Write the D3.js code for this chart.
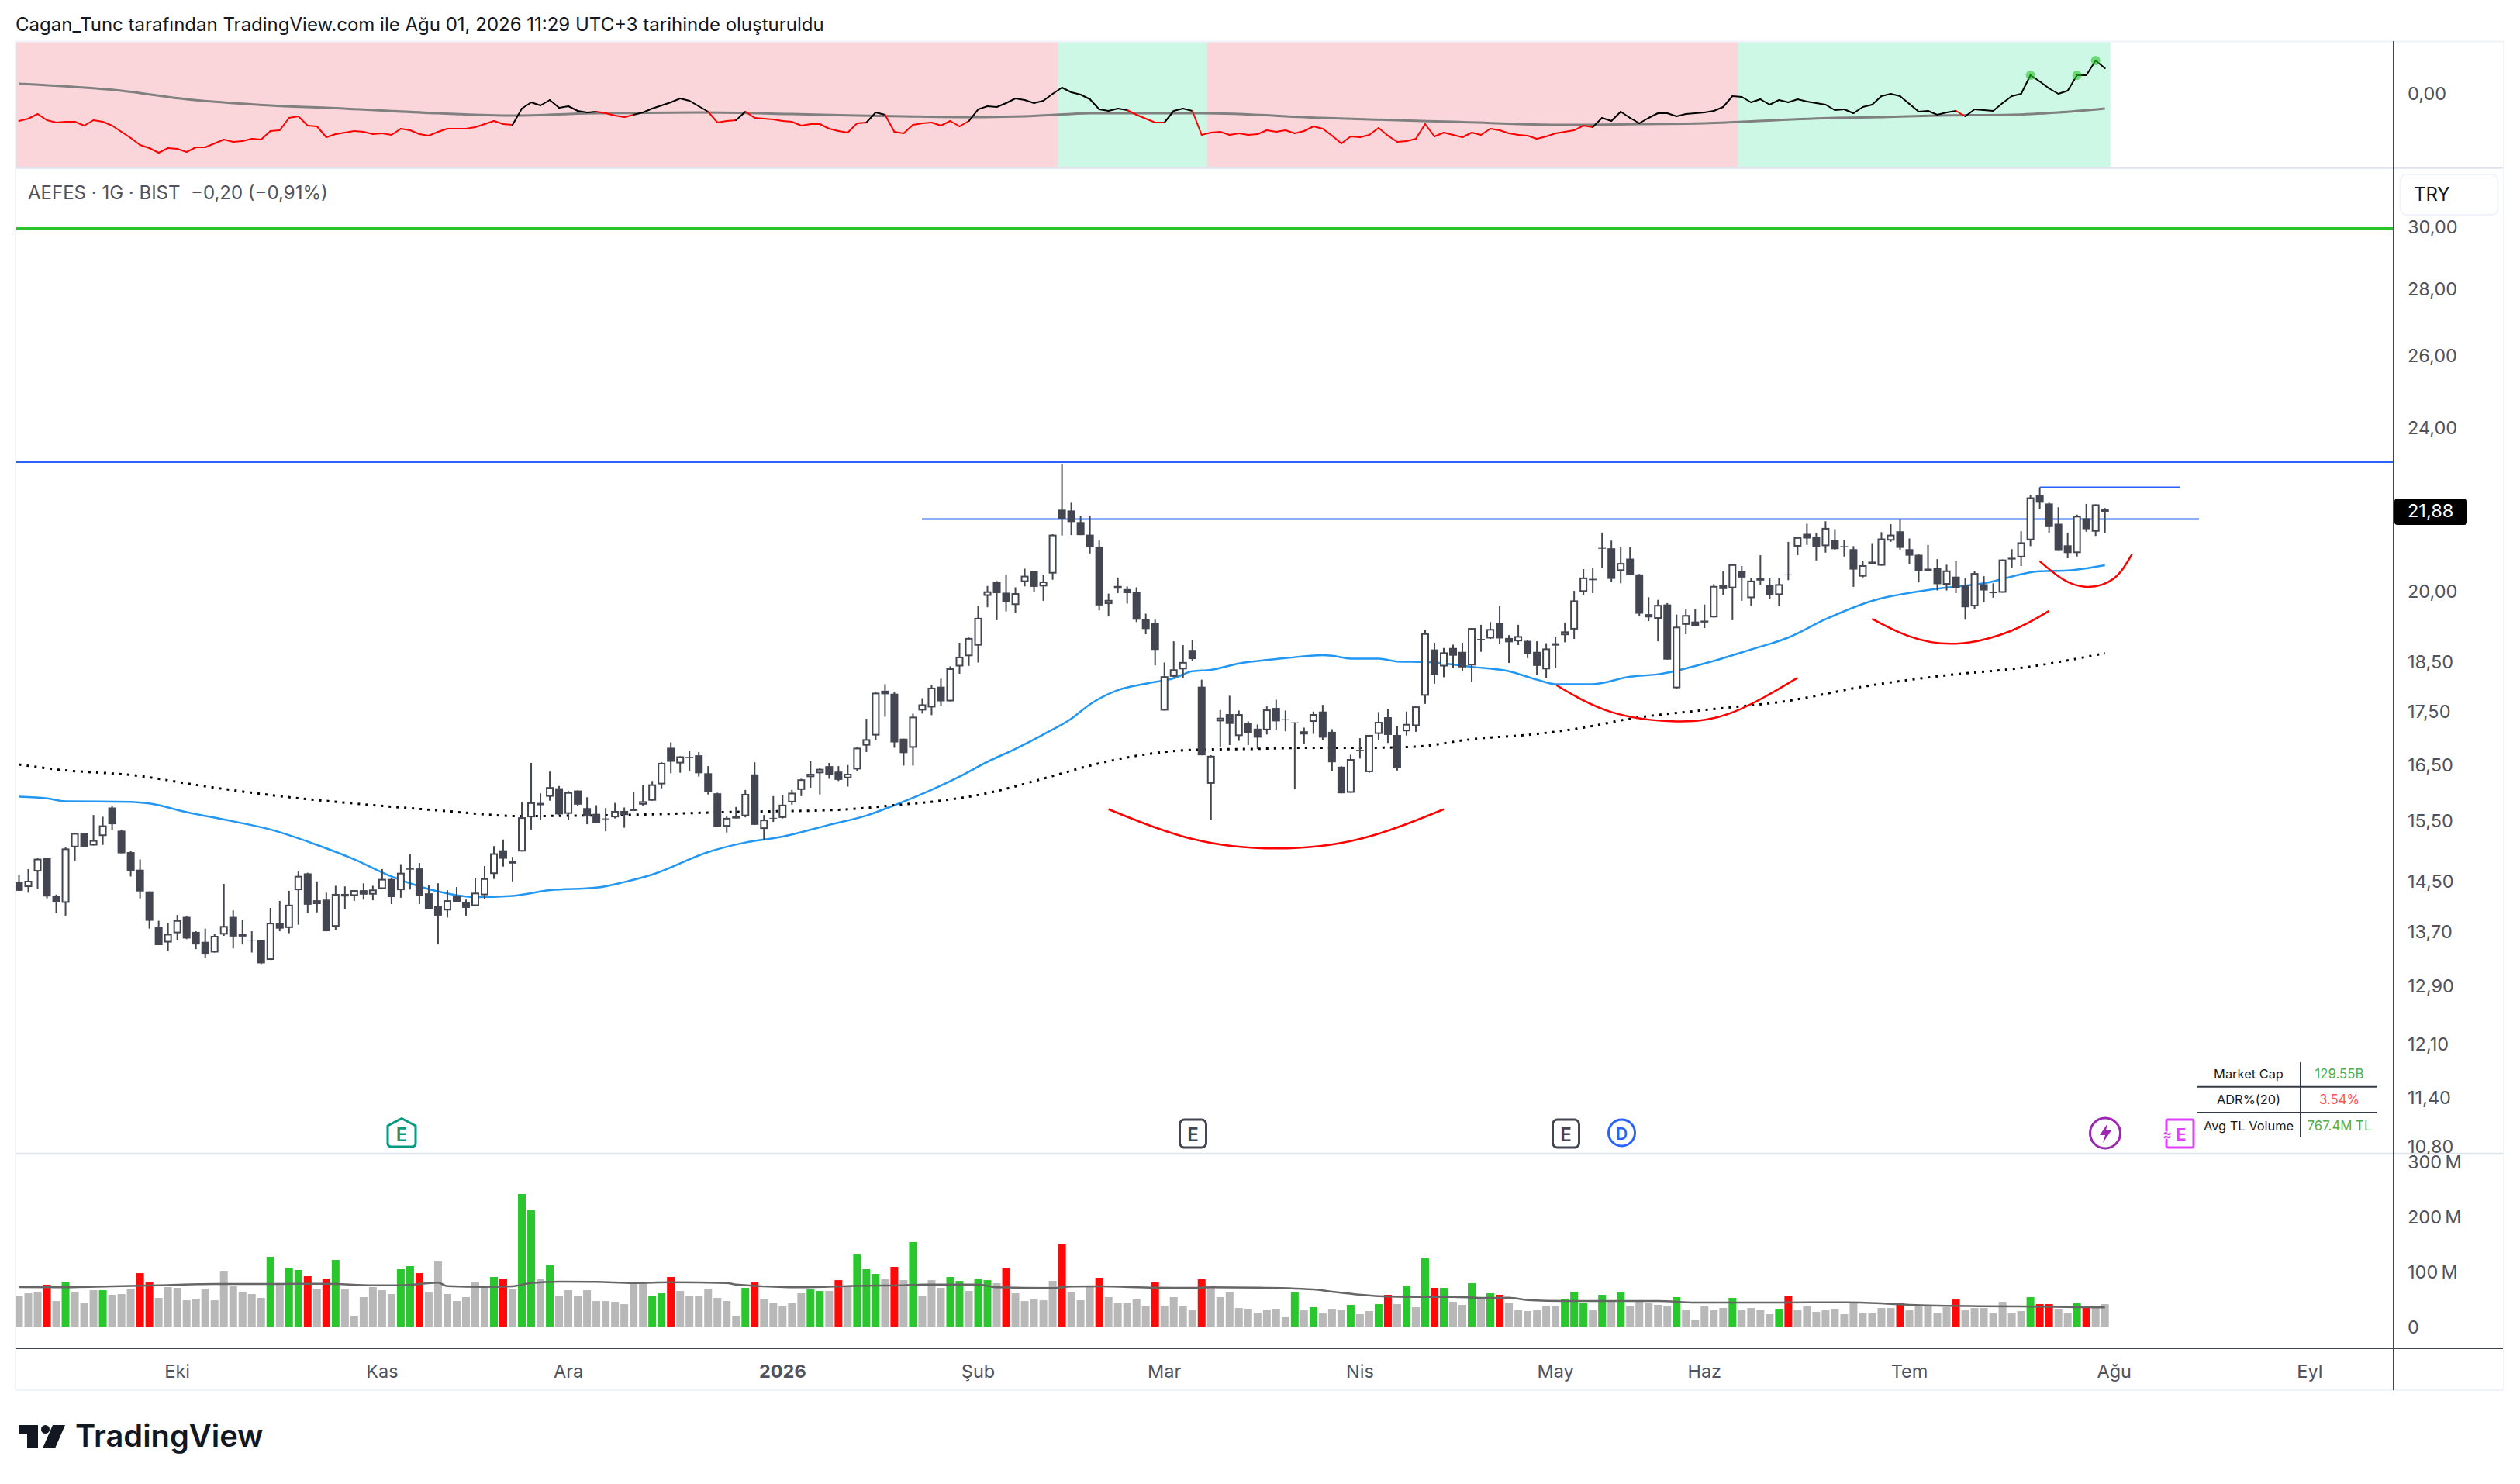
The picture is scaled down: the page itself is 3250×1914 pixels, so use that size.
<!DOCTYPE html>
<html>
<head>
<meta charset="utf-8">
<script src="https://cdn.jsdelivr.net/npm/d3@7"></script>
<style>
  html, body { margin: 0; background: #fff; }
  text { font-family: Inter, "Noto Sans", sans-serif; }
</style>
</head>
<body>
<svg id="chart" width="3250" height="1914"></svg>
<script>
const opens = [14.48,14.40,14.65,14.87,14.26,14.15,15.05,15.29,15.08,15.24,
  15.73,15.33,14.97,14.68,14.33,13.78,13.54,13.68,13.93,13.70,
  13.55,13.39,13.66,13.93,13.67,13.58,13.58,13.28,13.84,13.76,
  14.35,14.62,14.13,14.20,13.78,14.29,14.26,14.35,14.28,14.37,
  14.53,14.35,14.70,14.70,14.30,14.10,14.03,14.26,14.16,14.10,
  14.27,14.61,15.00,14.82,14.98,15.56,15.81,15.92,16.07,15.62,
  16.03,15.72,15.62,15.54,15.56,15.67,15.71,15.78,15.85,16.14,
  16.81,16.52,16.64,16.67,16.34,15.98,15.40,15.58,15.58,16.32,
  15.36,15.55,15.55,15.82,16.04,16.27,16.34,16.47,16.37,16.25,
  16.41,16.85,17.04,17.91,17.85,16.98,16.81,17.52,17.58,17.99,
  17.70,18.40,18.61,18.83,19.90,20.21,19.97,19.70,20.21,20.45,
  20.11,20.40,21.90,21.88,21.60,21.30,21.02,19.72,20.06,20.05,
  19.99,19.39,19.31,17.52,18.19,18.34,18.74,17.99,16.15,17.31,
  17.45,17.03,17.28,17.17,17.14,17.57,17.35,17.29,17.06,17.30,
  17.50,17.11,16.46,15.99,16.77,16.36,17.07,17.39,17.05,17.12,
  17.22,17.81,18.75,18.40,18.78,18.70,18.42,18.97,18.98,19.31,
  18.99,18.92,18.93,18.70,18.34,18.88,19.05,19.17,19.99,20.28,
  20.99,20.98,20.46,20.74,20.38,19.50,19.40,19.71,17.96,19.27,
  19.34,19.36,19.43,20.15,20.07,20.45,19.85,20.29,20.15,19.92,
  20.38,21.02,21.32,21.25,21.03,21.18,21.03,20.96,20.33,20.67,
  20.58,21.16,21.38,20.96,20.83,20.51,20.52,20.15,20.33,20.13,
  19.67,20.16,19.98,19.97,20.76,20.77,21.17,22.26,22.05,21.56,
  21.05,20.87,21.69,21.37,21.92];
const closes = [14.34,14.50,14.86,14.25,14.16,15.03,15.29,15.05,15.17,15.42,
  15.44,14.95,14.66,14.33,13.87,13.50,13.67,13.88,13.60,13.51,
  13.36,13.64,13.79,13.63,13.63,13.57,13.23,13.84,13.75,14.12,
  14.58,14.12,14.19,13.71,14.29,14.25,14.35,14.28,14.36,14.53,
  14.24,14.63,14.68,14.26,14.05,13.95,14.19,14.16,14.07,14.31,
  14.54,14.95,14.86,14.78,15.56,15.82,15.77,16.09,15.61,16.00,
  15.78,15.59,15.46,15.53,15.67,15.60,15.67,15.84,16.14,16.53,
  16.55,16.65,16.62,16.34,16.00,15.40,15.55,15.54,15.97,15.43,
  15.52,15.54,15.78,15.99,16.23,16.33,16.42,16.31,16.22,16.33,
  16.81,16.97,17.87,17.84,16.91,16.71,17.40,17.64,17.97,17.70,
  18.36,18.60,18.99,19.42,20.00,19.96,19.76,19.96,20.35,20.10,
  20.22,21.30,21.67,21.60,21.29,21.00,19.69,19.81,20.12,19.96,
  19.38,19.18,18.74,18.20,18.34,18.49,18.55,16.67,16.66,17.38,
  17.26,17.45,17.09,17.00,17.54,17.31,17.33,17.28,17.12,17.45,
  17.00,16.54,15.98,16.60,16.75,17.05,17.30,17.05,16.43,17.26,
  17.60,19.09,18.23,18.69,18.62,18.38,19.20,18.95,19.18,18.98,
  18.90,19.03,18.65,18.41,18.77,18.83,19.13,19.80,20.31,20.25,
  20.97,20.28,20.64,20.36,19.51,19.43,19.70,18.54,19.23,19.48,
  19.25,19.32,20.12,20.05,20.61,20.31,20.24,20.24,19.91,20.16,
  20.36,21.24,21.21,21.01,21.46,20.96,21.01,20.49,20.59,20.62,
  21.21,21.30,20.99,20.81,20.45,20.45,20.16,20.47,20.08,19.65,
  20.41,20.02,19.96,20.72,20.72,21.12,22.20,22.07,21.48,20.92,
  20.87,21.75,21.43,22.03,21.84];
const highs = [14.59,14.69,14.87,14.88,14.28,15.05,15.29,15.29,15.60,15.57,
  15.76,15.34,14.99,14.85,14.33,13.87,13.84,13.96,13.95,13.71,
  13.75,13.67,14.45,14.03,13.88,13.71,13.58,14.07,14.18,14.34,
  14.65,14.63,14.49,14.31,14.42,14.41,14.35,14.46,14.42,14.69,
  14.54,14.77,14.93,14.79,14.43,14.46,14.35,14.40,14.20,14.54,
  14.74,15.07,15.18,14.89,15.83,16.53,15.98,16.37,16.11,16.02,
  16.03,15.91,15.77,15.72,15.81,15.73,16.00,16.13,16.20,16.54,
  16.91,16.65,16.76,16.73,16.47,15.99,15.59,15.74,16.04,16.54,
  15.60,15.93,15.95,16.04,16.24,16.57,16.44,16.53,16.47,16.49,
  16.82,17.36,17.88,18.04,17.89,16.98,17.46,17.76,18.02,18.15,
  18.40,18.89,19.00,19.68,20.12,20.23,20.38,20.09,20.51,20.45,
  20.36,21.31,23.05,22.07,21.75,21.75,21.16,19.95,20.31,20.11,
  20.09,19.51,19.38,18.48,18.92,18.84,18.94,18.13,16.67,17.53,
  17.81,17.52,17.31,17.25,17.60,17.73,17.52,17.29,17.19,17.50,
  17.63,17.16,16.47,16.68,16.99,17.05,17.49,17.55,17.22,17.50,
  17.60,19.16,18.89,18.78,18.85,18.89,19.20,19.27,19.33,19.68,
  19.05,19.27,18.95,18.92,18.88,19.02,19.32,20.01,20.50,20.52,
  21.35,21.16,21.00,21.00,20.39,19.87,19.81,19.74,19.49,19.61,
  19.61,19.71,20.16,20.46,20.62,20.57,20.29,20.82,20.29,20.29,
  21.13,21.24,21.56,21.34,21.62,21.43,21.17,21.03,20.69,21.10,
  21.36,21.55,21.66,21.21,20.84,21.06,20.73,20.60,20.68,20.29,
  20.46,20.34,20.18,20.72,20.96,21.38,22.26,22.45,22.07,21.96,
  21.35,21.78,22.04,22.03,21.94];
const lows = [14.34,14.31,14.37,14.22,13.99,13.95,14.83,15.05,15.08,15.09,
  15.34,14.95,14.57,14.22,13.75,13.50,13.41,13.57,13.59,13.44,
  13.31,13.39,13.64,13.45,13.51,13.39,13.22,13.28,13.71,13.68,
  13.81,13.99,14.00,13.71,13.73,14.05,14.18,14.20,14.19,14.37,
  14.13,14.23,14.36,14.13,14.05,13.51,13.92,14.16,13.95,14.10,
  14.21,14.53,14.73,14.49,14.98,15.35,15.52,15.85,15.60,15.51,
  15.75,15.44,15.46,15.32,15.54,15.38,15.67,15.75,15.85,16.07,
  16.34,16.35,16.38,16.28,15.96,15.40,15.30,15.54,15.56,15.43,
  15.17,15.48,15.54,15.78,15.93,16.08,15.96,16.24,16.20,16.10,
  16.38,16.73,16.96,17.40,16.81,16.48,16.48,17.46,17.43,17.61,
  17.70,18.25,18.41,18.48,19.65,19.37,19.56,19.52,20.11,19.98,
  19.79,20.26,21.28,21.29,21.29,20.86,19.58,19.45,19.96,19.73,
  19.33,19.07,18.42,17.52,18.18,18.16,18.51,16.67,15.52,16.82,
  16.86,16.94,16.86,16.79,17.06,17.15,17.12,16.05,16.88,17.07,
  16.95,16.38,15.98,15.99,16.61,16.35,16.95,16.90,16.39,17.04,
  17.11,17.65,18.05,18.18,18.36,18.30,18.09,18.70,18.97,18.86,
  18.47,18.84,18.57,18.22,18.17,18.36,18.90,18.97,19.91,19.96,
  20.52,20.22,20.18,20.36,19.45,19.35,18.92,18.54,17.94,19.07,
  19.25,19.20,19.43,19.92,19.37,19.79,19.68,20.15,19.84,19.67,
  20.25,20.82,21.06,20.70,20.88,20.93,20.79,20.10,20.31,20.62,
  20.58,21.13,20.93,20.62,20.20,20.45,20.02,20.02,19.96,19.38,
  19.62,19.76,19.86,19.97,20.53,20.57,21.03,21.91,21.35,20.92,
  20.75,20.79,21.37,21.27,21.33];

// volume in millions
const volumes = [55.9,61.5,64.3,77.0,47.4,82.6,64.3,44.6,67.1,67.1,
  58.7,60.1,70.0,98.1,81.2,53.1,72.8,71.4,48.8,51.6,
  70.0,48.8,102.3,74.2,64.3,60.1,53.1,127.7,78.4,106.6,
  103.8,92.5,70.0,86.9,122.1,68.5,20.7,54.5,72.8,67.1,
  60.1,105.2,110.8,98.1,62.9,119.2,60.1,47.4,54.5,81.2,
  74.2,91.1,86.9,68.5,241.8,212.2,88.3,112.2,57.3,67.1,
  57.3,67.1,47.4,47.4,46.0,41.8,79.8,81.2,57.3,61.5,
  91.1,65.7,57.3,57.3,70.0,53.1,47.4,20.7,71.4,81.2,
  50.2,44.6,37.6,43.2,61.5,68.5,65.7,65.7,85.4,74.2,
  131.9,105.2,96.7,86.9,109.4,85.4,154.5,55.9,85.4,71.4,
  91.1,84.0,65.7,88.3,85.4,79.8,106.6,61.5,47.4,50.2,
  48.8,84.0,151.6,64.3,48.8,72.8,89.7,54.5,43.2,43.2,
  51.6,37.6,81.2,37.6,54.5,37.6,30.5,86.9,72.8,54.5,
  62.9,34.7,33.3,26.3,31.9,33.3,19.2,62.9,30.5,36.2,
  24.9,33.3,30.5,40.4,23.5,29.1,41.8,58.7,41.8,75.6,
  36.2,124.9,71.4,71.4,46.0,40.4,79.8,51.6,61.5,58.7,
  44.6,30.5,29.1,30.5,39.0,39.0,51.6,64.3,44.6,30.5,
  58.7,46.0,62.9,39.0,46.0,44.6,40.4,37.6,54.5,31.9,
  13.6,37.6,30.5,34.7,53.1,30.5,34.7,31.9,23.5,33.3,
  55.9,31.9,39.0,27.7,30.5,33.3,23.5,46.0,26.3,24.9,
  34.7,34.7,43.2,30.5,40.4,40.4,26.3,36.2,50.2,30.5,
  34.7,34.7,24.9,46.0,24.9,29.1,54.5,41.8,41.8,33.3,
  26.3,43.2,37.6,39.0,41.8];
const volumeUpBars = [5,9,27,29,30,34,41,42,51,54,55,57,68,69,78,85,86,90,91,92,96,100,101,103,104,
  137,139,143,146,149,151,153,156,158,166,167,168,170,172,178,184,189,216,221];
const volumeDownBars = [3,13,14,31,33,43,52,70,79,88,94,106,112,116,122,127,147,152,159,190,202,208,217,218,222];
const volumeMaBars = [0,4,10,16,21,27,33,38,41,45,46,50,53,55,58,62,66,70,76,77,84,89,90,95,97,103,105,111,113,116,
  122,126,128,133,139,141,146,150,154,157,160,162,166,176,180,189,196,200,203,207,215,221,224];
const volumeMaValues = [72.8,72.3,74.2,76.5,78.4,78.4,78.9,76.1,76.1,80.8,74.6,73.2,74.2,80.3,82.6,82.2,80.3,81.7,80.3,77.5,72.3,74.6,75.1,76.1,77.5,77.5,72.3,70.9,73.7,74.2,
  71.8,71.4,72.3,71.8,68.5,64.3,56.3,54.9,54.9,53.1,53.5,49.3,47.4,47.4,44.6,44.6,45.1,43.2,40.4,38.5,37.6,36.2,35.7];

// moving averages on the price pane
const ma50Bars = [0,3,5,12,14,18,23,27,32,36,40,45,49,53,57,62,65,68,74,78,82,87,91,94,97,101,104,107,110,113,115,118,121,124,126,128,131,136,140,141,143,146,148,151,156,160,163,165,169,173,176,181,186,190,194,199,205,211,217,220,224];
const ma50Values = [15.92,15.89,15.84,15.83,15.80,15.65,15.49,15.35,15.09,14.85,14.57,14.33,14.24,14.26,14.35,14.39,14.48,14.60,14.97,15.13,15.23,15.43,15.59,15.77,15.97,16.28,16.55,16.79,17.06,17.36,17.64,17.92,18.05,18.16,18.30,18.33,18.46,18.57,18.63,18.62,18.56,18.56,18.50,18.49,18.39,18.30,18.13,18.04,18.04,18.19,18.24,18.46,18.75,19.00,19.39,19.79,20.03,20.18,20.45,20.47,20.59];
const ma200Bars = [0,4,13,19,28,36,45,54,60,65,76,88,94,99,103,111,115,120,126,133,139,145,150,156,163,168,173,181,190,198,207,215,224];
const ma200Values = [16.50,16.41,16.29,16.13,15.93,15.80,15.68,15.58,15.59,15.60,15.65,15.69,15.77,15.85,15.95,16.29,16.48,16.66,16.77,16.79,16.81,16.81,16.83,16.97,17.07,17.19,17.36,17.53,17.71,17.99,18.22,18.37,18.67];

// hand drawn arcs, bar/price pairs
const arcBars = [[117,126,135,144,153],[165.1,171,178,184.1,191],[199,202.8,208,213.9,218],[217,219.4,222,224.9,226.9]];
const arcPrices = [[15.70,15.19,15.03,15.19,15.70],[18.02,17.49,17.31,17.49,18.17],[19.40,19.04,18.87,19.14,19.57],[20.68,20.28,20.10,20.28,20.84]];

// top indicator pane
const rsValues = [-.36,-.33,-.27,-.35,-.38,-.37,-.37,-.42,-.35,-.37,
  -.42,-.50,-.58,-.67,-.71,-.77,-.71,-.72,-.76,-.70,
  -.70,-.65,-.60,-.63,-.62,-.59,-.60,-.49,-.48,-.32,
  -.30,-.42,-.43,-.57,-.53,-.51,-.49,-.50,-.53,-.52,
  -.54,-.46,-.48,-.53,-.55,-.50,-.46,-.46,-.46,-.44,
  -.40,-.36,-.40,-.41,-.20,-.12,-.16,-.09,-.19,-.17,
  -.23,-.25,-.24,-.26,-.29,-.31,-.28,-.25,-.20,-.16,
  -.12,-.07,-.10,-.17,-.24,-.38,-.36,-.35,-.24,-.32,
  -.33,-.34,-.36,-.37,-.42,-.40,-.40,-.46,-.49,-.51,
  -.39,-.38,-.25,-.28,-.50,-.52,-.41,-.39,-.38,-.42,
  -.36,-.43,-.36,-.21,-.17,-.18,-.13,-.07,-.09,-.13,
  -.10,-.01,.07,.01,-.02,-.08,-.21,-.23,-.20,-.22,
  -.28,-.33,-.38,-.38,-.23,-.20,-.23,-.54,-.51,-.50,
  -.54,-.52,-.54,-.53,-.48,-.50,-.48,-.52,-.49,-.43,
  -.46,-.55,-.65,-.56,-.57,-.54,-.45,-.55,-.63,-.62,
  -.59,-.40,-.56,-.51,-.54,-.57,-.51,-.54,-.46,-.48,
  -.52,-.54,-.55,-.59,-.56,-.52,-.50,-.48,-.42,-.44,
  -.32,-.36,-.24,-.32,-.39,-.32,-.26,-.26,-.30,-.27,
  -.26,-.25,-.23,-.18,-.04,-.05,-.12,-.08,-.15,-.09,
  -.12,-.08,-.11,-.13,-.15,-.22,-.21,-.26,-.18,-.15,
  -.04,-.01,-.04,-.14,-.24,-.23,-.28,-.25,-.23,-.30,
  -.21,-.22,-.23,-.13,-.04,-.01,.23,.15,.06,-.01,
  .03,.23,.23,.42,.32];
const rsMaBars = [0,11,18,27,33,45,53,62,73,83,90,95,102,108,113,115,127,140,145,154,166,174,181,185,195,200,206,214,219,224];
const rsMaValues = [.12,.03,-.08,-.16,-.19,-.26,-.29,-.26,-.25,-.27,-.29,-.30,-.31,-.30,-.27,-.26,-.26,-.32,-.34,-.37,-.41,-.40,-.39,-.37,-.32,-.31,-.29,-.28,-.25,-.20];
const rsSignalBars = [216,221,223];
// market regime zones as first bar of each zone
const zoneStarts = [0,112,128,185];
const zoneEnds = [112,128,185,225];
const zoneBullish = [false,true,false,true];

const priceTicks = [30,28,26,24,20,18.5,17.5,16.5,15.5,14.5,13.7,12.9,12.1,11.4,10.8];
const volumeTicks = [0,100,200,300];
const monthBars = [17,39,59,82,103,123,144,165,181,203,225,246];
const monthLabels = ["Eki","Kas","Ara","2026","Şub","Mar","Nis","May","Haz","Tem","Ağu","Eyl"];
const greenLevel = 29.92;
const topLevel = 23.09;
const neckLevel = 21.67;
const shortLevel = 22.45;
const lastPrice = 21.88;
const tableLabels = ["Market Cap","ADR%(20)","Avg TL Volume"];
const tableValues = ["129.55B","3.54%","767.4M TL"];

const paneLeft = 20, axisX = 3087, paneRight = 3229;
const labelX = 3105;
const textColor = "#50535e";
const candleColor = "#434651";
const comma = d => d3.format(".2f")(d).replace(".", ",");

const svg = d3.select("#chart");
const bars = d3.range(opens.length);

const x = d3.scaleLinear().domain([0, 224]).range([24.5, 2714.7]);
const y = d3.scaleLog().domain([20, 30]).range([762.7, 292]);
const yVol = d3.scaleLinear().domain([0, 300]).range([1711.7, 1498.7]);
const yRs = d3.scaleLinear().domain([-0.96, 0.66]).range([216, 54]);

svg.append("clipPath").attr("id", "price-clip").append("rect")
  .attr("x", axisX).attr("y", 217).attr("width", 150).attr("height", 1271);

svg.append("text").attr("x", 20).attr("y", 40).attr("font-size", 24).attr("fill", "#131722")
  .text("Cagan_Tunc tarafından TradingView.com ile Ağu 01, 2026 11:29 UTC+3 tarihinde oluşturuldu");

// ---- indicator pane
const zoneX = b => b == 0 ? paneLeft : Math.min(x(b - 0.5) + 1, 2722);
svg.selectAll(".zone").data(zoneStarts).join("rect")
  .attr("x", d => zoneX(d))
  .attr("y", 54)
  .attr("width", (d, i) => zoneX(zoneEnds[i]) - zoneX(d))
  .attr("height", 161)
  .attr("fill", (d, i) => zoneBullish[i] ? "#ccf8e5" : "#fad6da");

const rsMaAt = d3.scaleLinear().domain(rsMaBars).range(rsMaValues);
const rsMaLine = d3.line().x((d, i) => x(rsMaBars[i])).y(d => yRs(d)).curve(d3.curveMonotoneX);
svg.append("path").attr("d", rsMaLine(rsMaValues)).attr("fill", "none").attr("stroke", "#808080").attr("stroke-width", 3);

svg.selectAll(".rs").data(bars.slice(1)).join("line")
  .attr("x1", d => x(d - 1)).attr("y1", d => yRs(rsValues[d - 1]))
  .attr("x2", d => x(d)).attr("y2", d => yRs(rsValues[d]))
  .attr("stroke", d => rsValues[d] >= rsMaAt(d) ? "#000" : "#ff0000")
  .attr("stroke-width", 2).attr("stroke-linecap", "round");

svg.selectAll(".signal").data(rsSignalBars).join("ellipse")
  .attr("cx", d => x(d)).attr("cy", d => yRs(rsValues[d]))
  .attr("rx", 6).attr("ry", 6).attr("fill", "#2ac42a").attr("fill-opacity", 0.6);

// ---- level lines
svg.append("line").attr("x1", paneLeft).attr("x2", axisX).attr("y1", y(greenLevel)).attr("y2", y(greenLevel))
  .attr("stroke", "#2ac42a").attr("stroke-width", 4);
svg.append("line").attr("x1", paneLeft).attr("x2", axisX).attr("y1", y(topLevel)).attr("y2", y(topLevel))
  .attr("stroke", "#2962ff").attr("stroke-width", 2);
svg.append("line").attr("x1", 1189).attr("x2", 2836).attr("y1", y(neckLevel)).attr("y2", y(neckLevel))
  .attr("stroke", "#2962ff").attr("stroke-width", 2);
svg.append("line").attr("x1", x(217)).attr("x2", 2812).attr("y1", y(shortLevel)).attr("y2", y(shortLevel))
  .attr("stroke", "#2962ff").attr("stroke-width", 2);

// ---- moving averages
const maLine = (barList) => d3.line().x((d, i) => x(barList[i])).y(d => y(d)).curve(d3.curveMonotoneX);
svg.append("path").attr("d", maLine(ma50Bars)(ma50Values)).attr("fill", "none")
  .attr("stroke", "#2196f3").attr("stroke-width", 2.5);
svg.append("path").attr("d", maLine(ma200Bars)(ma200Values)).attr("fill", "none")
  .attr("stroke", "#000").attr("stroke-width", 3).attr("stroke-dasharray", "3,7");

// ---- candles
svg.selectAll(".wick").data(bars).join("line")
  .attr("x1", d => x(d)).attr("x2", d => x(d))
  .attr("y1", d => y(highs[d])).attr("y2", d => y(lows[d]))
  .attr("stroke", candleColor).attr("stroke-width", 2);

svg.selectAll(".body").data(bars).join("rect")
  .attr("x", d => closes[d] > opens[d] ? x(d) - 4 : x(d) - 5)
  .attr("width", d => closes[d] > opens[d] ? 8 : 10)
  .attr("y", d => y(Math.max(opens[d], closes[d])) + (closes[d] > opens[d] ? 1 : 0))
  .attr("height", d => Math.max(1, Math.abs(y(opens[d]) - y(closes[d])) - (closes[d] > opens[d] ? 2 : 0)))
  .attr("fill", d => closes[d] > opens[d] ? "#fff" : candleColor)
  .attr("stroke", d => closes[d] > opens[d] ? candleColor : "none")
  .attr("stroke-width", 2);

// ---- arcs
const arcLine = d3.line().curve(d3.curveNatural);
svg.selectAll(".arc").data(arcBars).join("path")
  .attr("d", (b, k) => arcLine(b.map((v, j) => [x(v), y(arcPrices[k][j])])))
  .attr("fill", "none").attr("stroke", "#ff0000").attr("stroke-width", 2.5);

// ---- volume
svg.selectAll(".vol").data(bars).join("rect")
  .attr("x", d => x(d) - 5).attr("width", 10)
  .attr("y", d => yVol(volumes[d]))
  .attr("height", d => yVol(0) - yVol(volumes[d]))
  .attr("fill", d => volumeUpBars.includes(d) ? "#29c62d" : volumeDownBars.includes(d) ? "#ff0808" : "#b8b8b8");
const volMa = d3.line().x((d, i) => x(volumeMaBars[i])).y(d => yVol(d)).curve(d3.curveMonotoneX);
svg.append("path").attr("d", volMa(volumeMaValues)).attr("fill", "none")
  .attr("stroke", "#666").attr("stroke-width", 2.5);

// ---- frame
const frame = [
  [paneLeft, 53.5, paneRight, 53.5, "#f0f3fa", 2],
  [paneLeft, 216.5, paneRight, 216.5, "#e0e3eb", 2.5],
  [paneLeft, 1488, paneRight, 1488, "#e0e3eb", 2.5],
  [paneLeft, 1739, paneRight, 1739, candleColor, 2],
  [paneLeft, 1793, paneRight, 1793, "#f0f3fa", 2],
  [paneLeft, 53, paneLeft, 1793, "#f0f3fa", 2],
  [paneRight, 53, paneRight, 1793, "#f0f3fa", 2],
  [axisX, 53, axisX, 1793, candleColor, 2]
];
svg.selectAll(".frame").data(frame).join("line")
  .attr("x1", d => d[0]).attr("y1", d => d[1]).attr("x2", d => d[2]).attr("y2", d => d[3])
  .attr("stroke", d => d[4]).attr("stroke-width", d => d[5]);

// ---- axes text
const axisLabel = sel => sel.attr("x", labelX).attr("font-size", 23.5).attr("fill", textColor).attr("dominant-baseline", "central");
svg.append("g").attr("clip-path", "url(#price-clip)").selectAll("text").data(priceTicks).join("text")
  .call(axisLabel).attr("y", d => y(d)).text(comma);
svg.selectAll(".vtick").data(volumeTicks).join("text").call(axisLabel).attr("y", d => yVol(d)).text(d => d == 0 ? "0" : d + "\u202fM");
svg.append("text").call(axisLabel).attr("y", yRs(0)).text(comma(0));

svg.append("rect").attr("x", axisX + 1).attr("y", 643).attr("width", 94).attr("height", 34).attr("rx", 4).attr("fill", "#000");
svg.append("text").call(axisLabel).attr("y", y(lastPrice)).attr("fill", "#fff").text(comma(lastPrice));

svg.append("rect").attr("x", 3095.5).attr("y", 225).attr("width", 126).attr("height", 52).attr("rx", 8)
  .attr("fill", "#fff").attr("stroke", "#f0f3fa").attr("stroke-width", 2);
svg.append("text").attr("x", 3113).attr("y", 250).attr("font-size", 24).attr("fill", "#131722")
  .attr("dominant-baseline", "central").text("TRY");

svg.selectAll(".month").data(monthBars).join("text")
  .attr("x", d => x(d)).attr("y", 1768).attr("text-anchor", "middle").attr("dominant-baseline", "central")
  .attr("font-size", 23.5).attr("fill", textColor)
  .attr("font-weight", (d, i) => monthLabels[i] == "2026" ? 700 : 400)
  .text((d, i) => monthLabels[i]);

svg.append("text").attr("x", 36).attr("y", 248.5).attr("font-size", 24).attr("fill", textColor)
  .attr("dominant-baseline", "central").attr("xml:space", "preserve")
  .text("AEFES · 1G · BIST  \u22120,20 (\u22120,91%)");

// ---- event badges
const badgeText = (cx, color, label) => svg.append("text").attr("x", cx).attr("y", 1463)
  .attr("text-anchor", "middle").attr("dominant-baseline", "central")
  .attr("font-size", 24).attr("font-weight", 600).attr("fill", color).text(label);
const badge = (cx, color, label) => {
  svg.append("rect").attr("x", cx - 17).attr("y", 1444).attr("width", 34).attr("height", 36).attr("rx", 6)
    .attr("fill", "#fff").attr("stroke", color).attr("stroke-width", 3);
  badgeText(cx, color, label);
};
svg.append("path").attr("d", "M500 1452 L518 1442.5 L536 1452 V1474 Q536 1479 531 1479 H505 Q500 1479 500 1474 Z")
  .attr("fill", "#fff").attr("stroke", "#089981").attr("stroke-width", 3).attr("stroke-linejoin", "round");
badgeText(518, "#089981", "E");
badge(1538.5, candleColor, "E");
badge(2019.5, candleColor, "E");
svg.append("circle").attr("cx", 2091.5).attr("cy", 1461).attr("r", 17).attr("fill", "#fff").attr("stroke", "#2962ff").attr("stroke-width", 3);
svg.append("text").attr("x", 2091.5).attr("y", 1462).attr("text-anchor", "middle").attr("dominant-baseline", "central")
  .attr("font-size", 21).attr("font-weight", 600).attr("fill", "#2962ff").text("D");
svg.append("circle").attr("cx", 2715).attr("cy", 1461.5).attr("r", 19.5).attr("fill", "#fff").attr("stroke", "#9c27b0").attr("stroke-width", 3);
svg.append("path").attr("d", "M2718 1449 L2708 1464 L2715 1464 L2712 1474 L2723 1458 L2716 1458 Z").attr("fill", "#9c27b0");
svg.append("rect").attr("x", 2794).attr("y", 1444).attr("width", 35).attr("height", 36).attr("rx", 2)
  .attr("fill", "#fff").attr("stroke", "#e040fb").attr("stroke-width", 3);
svg.append("text").attr("x", 2813).attr("y", 1463).attr("text-anchor", "middle").attr("dominant-baseline", "central")
  .attr("font-size", 22).attr("font-weight", 600).attr("fill", "#e040fb").text("E");
svg.append("text").attr("x", 2795).attr("y", 1463).attr("text-anchor", "middle").attr("dominant-baseline", "central")
  .attr("font-size", 17).attr("font-weight", 700).attr("fill", "#e040fb").attr("stroke", "#fff").attr("stroke-width", 2).attr("paint-order", "stroke").text("≈");

// ---- info table
const rowY = [1385, 1418, 1452];
const tableColors = ["#4caf50", "#ff5252", "#4caf50"];
svg.selectAll(".tlabel").data(tableLabels).join("text")
  .attr("x", 2900).attr("y", (d, i) => rowY[i]).attr("text-anchor", "middle").attr("dominant-baseline", "central")
  .attr("font-size", 16.4).attr("fill", "#131722").text(d => d);
svg.selectAll(".tvalue").data(tableValues).join("text")
  .attr("x", 3017).attr("y", (d, i) => rowY[i]).attr("text-anchor", "middle").attr("dominant-baseline", "central")
  .attr("font-size", 16.8).attr("fill", (d, i) => tableColors[i]).text(d => d);
svg.append("line").attr("x1", 2967).attr("x2", 2967).attr("y1", 1370).attr("y2", 1467).attr("stroke", "#363a45").attr("stroke-width", 2);
[1401.7, 1435].forEach(v => svg.append("line").attr("x1", 2834).attr("x2", 3066).attr("y1", v).attr("y2", v)
  .attr("stroke", "#363a45").attr("stroke-width", 2));

// ---- logo
svg.append("path").attr("d", "M24 1838 H49 V1868 H35 V1849 H24 Z M68 1838 H84 L71 1868 H55 Z").attr("fill", "#131722");
svg.append("circle").attr("cx", 58.5).attr("cy", 1843.5).attr("r", 5.5).attr("fill", "#131722");
svg.append("text").attr("x", 97).attr("y", 1866).attr("font-size", 39.8).attr("font-weight", 600).attr("fill", "#131722").text("TradingView");
</script>
</body>
</html>
